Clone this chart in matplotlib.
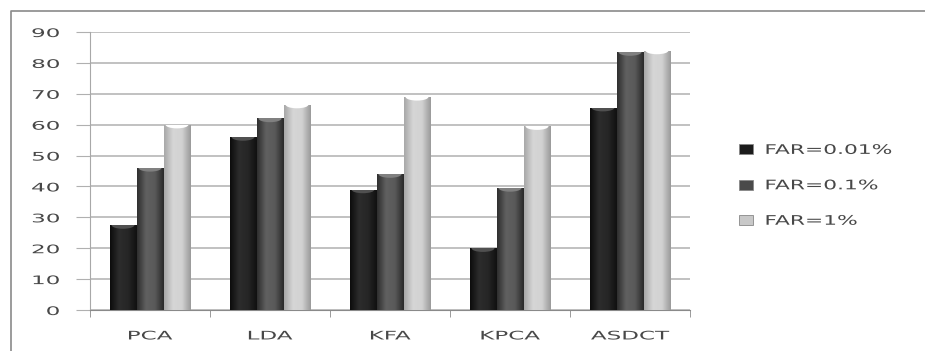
import matplotlib
matplotlib.use("Agg")
import matplotlib.pyplot as plt
import numpy as np
from matplotlib.colors import LinearSegmentedColormap
from matplotlib.lines import Line2D
from matplotlib.patches import Ellipse, Rectangle
from matplotlib.patheffects import AbstractPathEffect
from matplotlib.transforms import Affine2D

categories = ["PCA", "LDA", "KFA", "KPCA", "ASDCT"]
far_001 = [27.5, 56, 39, 20, 65.5]
far_01 = [46, 62, 44, 39.5, 83.5]
far_1 = [60, 66.5, 69, 59.5, 84]
series_names = ["FAR=0.01%", "FAR=0.1%", "FAR=1%"]

# edge -> centre -> edge shades that give each bar a rounded look
shades = [
    ["#0c0c0c", "#2c2c2c", "#262626", "#101010"],
    ["#2e2e2e", "#606060", "#5a5a5a", "#2a2a2a"],
    ["#a8a8a8", "#d6d6d6", "#d2d2d2", "#9a9a9a"],
]
tops = ["#505050", "#808080", "#ffffff"]
legend_colors = ["#1c1c1c", "#4a4a4a", "#c8c8c8"]


class Stretch(AbstractPathEffect):
    """Widen text horizontally about its left, centre or right edge."""

    def __init__(self, sx, anchor="center"):
        super().__init__()
        self.sx = sx
        self.anchor = anchor

    def draw_path(self, renderer, gc, tpath, affine, rgbFace=None):
        ext = tpath.get_extents()
        cx = {"left": ext.x0, "right": ext.x1}.get(self.anchor, (ext.x0 + ext.x1) / 2)
        scale = Affine2D().translate(-cx, 0).scale(self.sx, 1).translate(cx, 0)
        renderer.draw_path(gc, tpath, scale + affine, rgbFace)


W, H = 925, 351
fig = plt.figure(figsize=(W / 100, H / 100), dpi=100)
fig.patch.set_facecolor("white")

# outer chart frame (left and top edges only, the rest runs off the image)
fx, fy = 10.5 / W, (H - 10.5) / H
fig.add_artist(Line2D([fx, fx, 1.0], [0.0, fy, fy], transform=fig.transFigure,
                      color="#8a8a8a", linewidth=1.2))

ax = fig.add_axes([90 / W, (H - 310) / H, 600 / W, (310 - 32) / H])
ax.set_facecolor("none")

x = np.arange(len(categories))
bw = 0.225
offsets = [-bw, 0, bw]
data = [far_001, far_01, far_1]

grad = np.linspace(0, 1, 64).reshape(1, -1)
for s, vals in enumerate(data):
    cmap = LinearSegmentedColormap.from_list("c%d" % s, shades[s])
    bars = ax.bar(x + offsets[s], vals, width=bw, color="none", zorder=3)
    for rect, v in zip(bars, vals):
        x0 = rect.get_x()
        im = ax.imshow(grad, cmap=cmap, aspect="auto", zorder=3,
                       extent=[x0, x0 + bw, 0, v], interpolation="bicubic")
        im.set_clip_path(rect)
        # hollow top of the cylinder
        top = Ellipse((x0 + bw / 2, v), bw * 0.85, 2.4,
                      facecolor=tops[s], edgecolor="none", zorder=4)
        ax.add_patch(top)
        top.set_clip_path(rect)

ax.set_xlim(-0.5, len(categories) - 0.5)
ax.set_ylim(0, 90)
ax.set_yticks(range(0, 91, 10))
ax.yaxis.grid(True, color="#b0b0b0", linewidth=1.1)
ax.set_axisbelow(True)

ax.set_xticks(x)
ax.set_xticklabels(categories)
ax.set_xticks(np.arange(-0.5, len(categories), 1), minor=True)
ax.tick_params(axis="x", which="major", length=0, pad=14,
               labelsize=8.5, labelcolor="#484848")
ax.tick_params(axis="x", which="minor", length=5, color="#8a8a8a")
ax.tick_params(axis="y", length=10, pad=12, color="#b0b0b0",
               labelsize=8.5, labelcolor="#484848")

for lbl in ax.get_xticklabels():
    lbl.set_path_effects([Stretch(1.95, "center")])
for lbl in ax.get_yticklabels():
    lbl.set_path_effects([Stretch(1.95, "right")])

for side in ["top", "right"]:
    ax.spines[side].set_visible(False)
ax.spines["left"].set_color("#a8a8a8")
ax.spines["bottom"].set_color("#8a8a8a")

handles = [Rectangle((0, 0), 1, 1, facecolor=c, edgecolor="#888888", linewidth=0.6)
           for c in legend_colors]
leg = fig.legend(handles, series_names, loc="upper left",
                 bbox_to_anchor=(727 / W, (H - 132) / H), frameon=False,
                 fontsize=9.5, labelcolor="#484848", handlelength=1.1,
                 handleheight=0.75, handletextpad=0.9, labelspacing=1.7)
for t in leg.get_texts():
    t.set_path_effects([Stretch(1.65, "left")])

fig.savefig("out.png", dpi=100)
